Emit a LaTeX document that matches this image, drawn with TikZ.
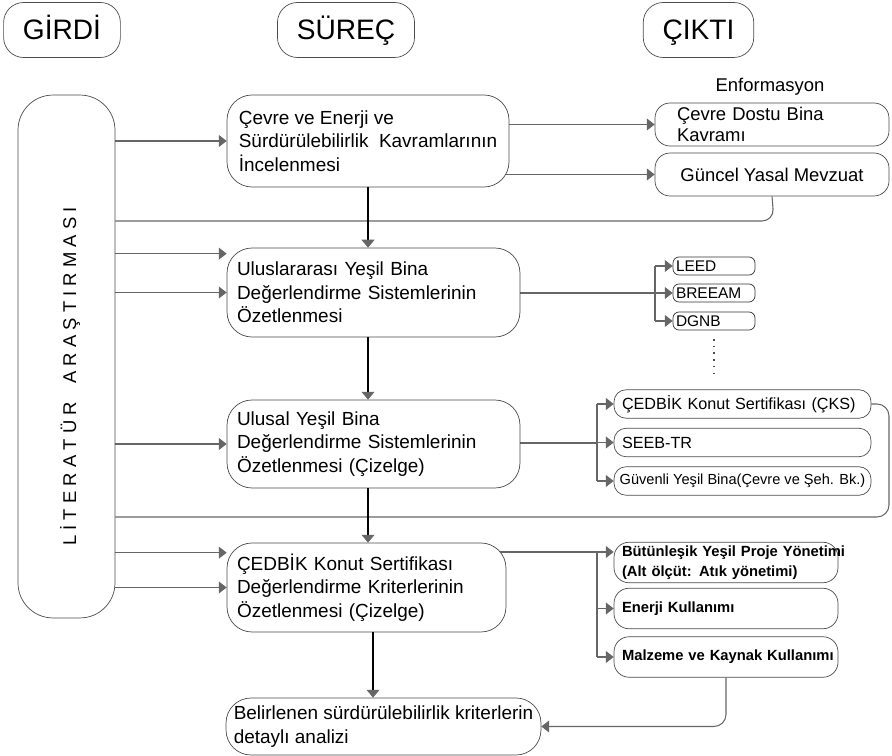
\documentclass[tikz,border=0pt]{standalone}
\usepackage{fontspec}
\setmainfont{Liberation Sans}
\usetikzlibrary{arrows.meta,calc,backgrounds}

\begin{document}
\begin{tikzpicture}[x=0.02cm,y=-0.02cm,
  every node/.style={font=\fontsize{10.8}{13.4}\selectfont},
  head/.style={draw=black!70,rounded corners=0.4cm,minimum height=1.1cm,inner xsep=11pt,inner ysep=0pt,text height=11.5pt,text depth=1pt,font=\fontsize{16}{18}\selectfont},
  proc/.style={draw=black!70,fill=white,rounded corners=0.5cm,align=left,inner sep=0pt},
  outp/.style={draw=black!70,fill=white,rounded corners=0.3cm,align=left,inner sep=0pt,minimum width=4.68cm,minimum height=0.86cm,font=\fontsize{10.5}{12}\selectfont},
  sys/.style={draw=black!80,fill=white,rounded corners=0.12cm,align=left,inner sep=0pt,minimum width=1.64cm,minimum height=0.36cm,text width=1.52cm,font=\fontsize{8.8}{10}\selectfont},
  nat/.style={draw=black!70,fill=white,rounded corners=0.24cm,align=left,inner sep=0pt,minimum width=5.14cm,minimum height=0.57cm,font=\fontsize{9.2}{11}\selectfont},
  crit/.style={draw=black!70,fill=white,rounded corners=0.3cm,align=left,inner sep=0pt,minimum width=4.48cm,minimum height=0.81cm,text width=4.16cm,font=\bfseries\fontsize{8.4}{11.3}\selectfont},
  ln/.style={black!60,line width=0.6pt},
  arr/.style={-{Triangle[length=4.5pt,width=6.8pt,fill=black!60]}},
  procarr/.style={black,line width=1.1pt,-{Triangle[length=4.5pt,width=7.4pt,line width=0.4pt,color=black!60,fill=black!60]}}]
\useasboundingbox (0,0) rectangle (892,756);
% column heads
\node[head] (gir) at (62,30) {GİRDİ};
\node[head] (sur) at (346,30) {SÜREÇ};
\node[head] (cik) at (698.5,30) {ÇIKTI};
% input
\node[draw=black!70,fill=white,rounded corners=0.7cm,minimum width=1.94cm,minimum height=10.46cm] (lit) at (66.5,356.5) {};
\node[rotate=90,font=\fontsize{10.5}{12}\selectfont] (litT) at (70,376.5) {L İ T E R A T Ü R\quad A R A Ş T I R M A S I};
% process
\node[proc,minimum width=5.64cm,minimum height=1.84cm] (p1) at (368,141) {Çevre ve Enerji ve\\Sürdürülebilirlik~ Kavramlarının\\İncelenmesi};
\node[proc,minimum width=5.86cm,minimum height=1.78cm,text width=5.46cm] (p2) at (373.5,292.5) {Uluslararası Yeşil Bina\\Değerlendirme Sistemlerinin\\Özetlenmesi};
\node[proc,minimum width=5.86cm,minimum height=1.76cm,text width=5.46cm] (p3) at (373.5,444) {Ulusal Yeşil Bina\\Değerlendirme Sistemlerinin\\Özetlenmesi (Çizelge)};
\node[proc,minimum width=5.58cm,minimum height=1.78cm,text width=5.18cm] (p4) at (366.5,587.5) {ÇEDBİK Konut Sertifikası\\Değerlendirme Kriterlerinin\\Özetlenmesi (Çizelge)};
\node[proc,minimum width=6.3cm,minimum height=1.14cm] (p5) at (383.5,726.5) {Belirlenen sürdürülebilirlik kriterlerin\\detaylı analizi};
% output
\node[font=\fontsize{10.5}{12}\selectfont] (enf) at (770,87) {Enformasyon};
\node[outp,text width=3.8cm] (cdb) at (772,124.5) {Çevre Dostu Bina\\Kavramı};
\node[outp] (gym) at (772,174.5) {Güncel Yasal Mevzuat};
\foreach \n/\t/\y in {leed/LEED/266,bre/BREEAM/293,dgnb/DGNB/321}
  \node[sys] (\n) at (714,\y) {\t};
\draw[black!70,line width=0.8pt,dash pattern=on 0.8pt off 3pt] ([yshift=-5pt]dgnb.south) -- ++(0,39);
\node[nat,text width=4.82cm] (cks) at (742.5,404) {ÇEDBİK Konut Sertifikası (ÇKS)};
\node[nat,text width=4.82cm] (seeb) at (742.5,442.5) {SEEB-TR};
\node[nat,font=\fontsize{8.3}{10}\selectfont] (gyb) at (742.5,481) {Güvenli Yeşil Bina(Çevre ve Şeh. Bk.)};
\node[crit] (but) at (726,562.5) {\mbox{Bütünleşik Yeşil Proje Yönetimi}\\(Alt ölçüt: Atık yönetimi)};
\node[crit] (enk) at (726,608.5) {Enerji Kullanımı};
\node[crit] (mkk) at (726,657) {\mbox{Malzeme ve Kaynak Kullanımı}};
% branch points
\coordinate (br2) at (655,293);
\coordinate (br3) at (597,443);
\coordinate (br4) at (597,552);
\coordinate (fb1) at (774,221);
\coordinate (fb2) at (889,517);
\coordinate (fb3) at (726,726.5);
\coordinate (p2top) at ($(p2.north west)+(0,6)$);
\coordinate (p4top) at ($(p4.north west)+(0,10)$);
\begin{scope}[on background layer]
% literature to process
\foreach \t in {p1.west,p2top,p2.west,p3.west,p4top,p4.west}
  \draw[ln,arr] (lit.east |- \t) -- (\t);
% feedback lines
\draw[ln,rounded corners=0.24cm] (gym.south) -- (fb1) -- (lit.east |- fb1);
\draw[ln,rounded corners=0.24cm] (cks.east) -- (cks.east -| fb2) -- (fb2) -- (lit.east |- fb2);
\draw[ln,arr,rounded corners=0.24cm] (mkk.south) -- (fb3) -- (p5.east);
% process to output
\draw[ln,arr] (p1.center |- cdb.west) -- (cdb.west);
\draw[ln,arr] (p1.center |- gym.west) -- (gym.west);
\draw[ln] (p2.center |- br2) -- (br2);
\draw[ln] (br2 |- leed.west) -- (br2 |- dgnb.west);
\foreach \n in {leed,bre,dgnb}
  \draw[ln,arr] (br2 |- \n.west) -- (\n.west);
\draw[ln] (p3.center |- br3) -- (br3);
\draw[ln] (br3 |- cks.west) -- (br3 |- gyb.west);
\foreach \n in {cks,seeb,gyb}
  \draw[ln,arr] (br3 |- \n.west) -- (\n.west);
\draw[ln] (p4.center |- br4) -- (br4) -- (br4 |- mkk.west);
\draw[ln,arr] (br4) -- (br4 -| but.west);
\foreach \n in {enk,mkk}
  \draw[ln,arr] (br4 |- \n.west) -- (\n.west);
\end{scope}
% process chain
\foreach \a/\b in {p1/p2,p2/p3,p3/p4}
  \draw[procarr] (\a.south -| p1.south) -- (\b.north -| p1.south);
\draw[procarr] (p4.south -| 373,0) -- (p5.north -| 373,0);
\end{tikzpicture}
\end{document}
